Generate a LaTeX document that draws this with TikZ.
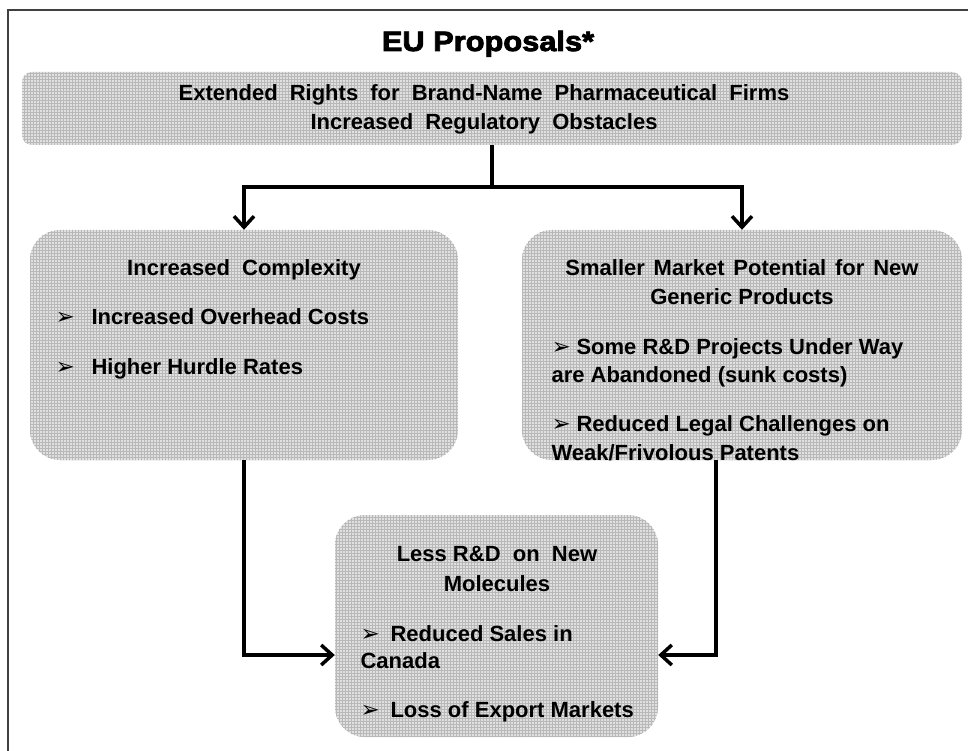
\documentclass[tikz,border=0pt]{standalone}
\usepackage{fontspec}
\setmainfont{Liberation Sans}
\newfontfamily\symfont{DejaVu Sans}
\newfontface\heavyfont[FakeBold=3,FakeStretch=1.1]{Liberation Sans Bold}
\usetikzlibrary{arrows.meta,patterns}

\newcommand{\arrowbullet}{{\symfont\fontsize{23}{23}\selectfont ➢}}
\newcommand{\itemmark}[1]{\makebox[#1][l]{\arrowbullet}}

\begin{document}
\begin{tikzpicture}[x=1pt, y=-1pt,
  frame/.style={line width=2pt, draw=black!75},
  panel/.style={inner sep=0pt, preaction={fill=black!12}, pattern=grid, pattern color=black!28},
  banner/.style={panel, rounded corners=10pt, minimum width=940pt, minimum height=73pt},
  box/.style={panel, rounded corners=30pt},
  headline/.style={anchor=base, font=\heavyfont\fontsize{28}{30}\selectfont},
  heading/.style={anchor=base, font=\bfseries\fontsize{22}{25}\selectfont},
  item/.style={anchor=base west, font=\bfseries\fontsize{22}{25}\selectfont},
  link/.style={line width=3.5pt},
  flow/.style={link, -{Straight Barb[length=11pt, width=20pt]}},
]
\useasboundingbox (0,0) rectangle (968,751);
\draw[frame] (8,751) -- (8,10) -- (968,10);

\node[headline] (title) at (488,51) {EU Proposals*};

\node[banner] (proposals) at (492,108.5) {};
\node[heading] (rights) at (484,101) {\spaceskip=0.55em\relax Extended Rights for Brand-Name Pharmaceutical Firms};
\node[heading] (obstacles) at (484,130) {\spaceskip=0.55em\relax Increased Regulatory Obstacles};

\node[box, minimum width=428pt, minimum height=230pt] (complexity) at (244,345) {};
\node[heading] (complexityhead) at (244,275) {Increased\ \ Complexity};
\node[item] (overhead) at (52,324) {\itemmark{36pt}Increased Overhead Costs};
\node[item] (hurdle) at (52,374) {\itemmark{36pt}Higher Hurdle Rates};

\node[box, minimum width=440pt, minimum height=230pt] (market) at (742,345) {};
\node[heading] (markethead1) at (742,275) {\spaceskip=0.4em\relax Smaller Market Potential for New};
\node[heading] (markethead2) at (742,304) {Generic Products};
\node[item] (projects1) at (548,354) {\itemmark{25pt}Some R\&D Projects Under Way};
\node[item] (projects2) at (548,382) {are Abandoned (sunk costs)};
\node[item] (legal1) at (548,431) {\itemmark{25pt}Reduced Legal Challenges on};
\node[item] (legal2) at (548,460) {Weak/Frivolous Patents};

\node[box, minimum width=323pt, minimum height=222pt] (research) at (496.5,626) {};
\node[heading] (researchhead1) at (497,561) {Less R\&D\ \ on\ \ New};
\node[heading] (researchhead2) at (497,591) {Molecules};
\node[item] (sales1) at (357,641) {\itemmark{30pt}Reduced Sales in};
\node[item] (sales2) at (357,668) {Canada};
\node[item] (export) at (357,717) {\itemmark{30pt}Loss of Export Markets};

\coordinate (fork) at (proposals.south |- 0,187);
\draw[link] (proposals.south) -- (fork);
\draw[flow] (fork) -| (complexity.north);
\draw[flow] (fork) -| (market.north);
\draw[flow] (complexity.south) |- ([yshift=-29pt]research.west);
\draw[flow] ([xshift=-26pt]market.south) |- ([yshift=-29pt]research.east);
\end{tikzpicture}
\end{document}
